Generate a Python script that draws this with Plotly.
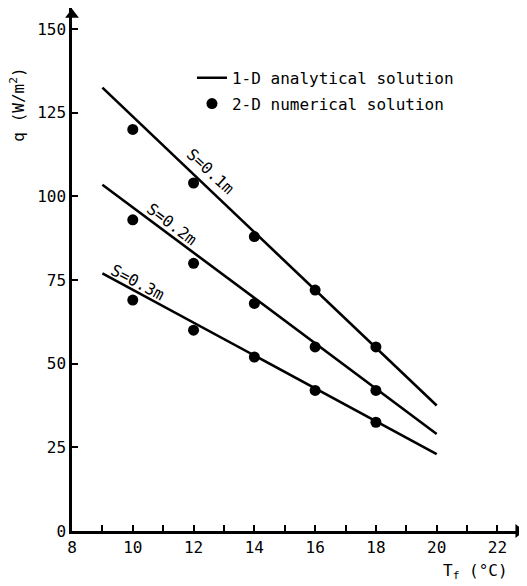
import plotly.graph_objects as go

# ---- data ----
T_line = [9, 20]
q_line_s01 = [132.5, 37.5]
q_line_s02 = [103.5, 29.0]
q_line_s03 = [77.0, 23.0]

T_pts = [10, 12, 14, 16, 18]
q_pts_s01 = [120, 104, 88, 72, 55]
q_pts_s02 = [93, 80, 68, 55, 42]
q_pts_s03 = [69, 60, 52, 42, 32.5]

labels = ["S=0.1m", "S=0.2m", "S=0.3m"]
label_T = [12.55, 11.3, 10.17]
label_q = [107.3, 91.7, 74.4]
label_angle = [43, 37, 28]

x_ticks = [8, 10, 12, 14, 16, 18, 20, 22]
y_ticks = [0, 25, 50, 75, 100, 125, 150]

FONT = "DejaVu Sans Mono"

xr = [8, 22.84]
yr = [0, 156.3]

fig = go.Figure()
lines = [q_line_s01, q_line_s02, q_line_s03]
pts = [q_pts_s01, q_pts_s02, q_pts_s03]
for i in range(3):
    fig.add_trace(go.Scatter(
        x=T_line, y=lines[i], mode="lines",
        line=dict(color="black", width=2.6),
        name="1-D analytical solution", showlegend=(i == 0),
        legendgroup="a"))
for i in range(3):
    fig.add_trace(go.Scatter(
        x=T_pts, y=pts[i], mode="markers",
        marker=dict(color="black", size=11),
        name="2-D numerical solution", showlegend=(i == 0),
        legendgroup="b"))

# axis arrow heads
fig.add_trace(go.Scatter(x=[xr[1] - 0.15], y=[yr[0]], mode="markers",
                         marker=dict(symbol="triangle-right", size=12, color="black"),
                         showlegend=False, cliponaxis=False, hoverinfo="skip"))
fig.add_trace(go.Scatter(x=[xr[0]], y=[yr[1] - 2], mode="markers",
                         marker=dict(symbol="triangle-up", size=12, color="black"),
                         showlegend=False, cliponaxis=False, hoverinfo="skip"))

for t, x, y, a in zip(labels, label_T, label_q, label_angle):
    fig.add_annotation(x=x, y=y, text=t, textangle=a, showarrow=False,
                       font=dict(family=FONT, size=16, color="black"))

# axis titles
fig.add_annotation(x=0.971, y=-0.078, xref="paper", yref="paper",
                   xanchor="right", yanchor="middle", showarrow=False,
                   text="T<sub>f</sub> (°C)",
                   font=dict(family=FONT, size=16, color="black"))
fig.add_annotation(x=-0.12, y=0.815, xref="paper", yref="paper",
                   xanchor="center", yanchor="middle", showarrow=False,
                   textangle=-90, text="q (W/m<sup>2</sup>)",
                   font=dict(family=FONT, size=16, color="black"))

fig.update_layout(
    width=519, height=578,
    margin=dict(l=64, r=4, t=0, b=55),
    paper_bgcolor="white", plot_bgcolor="white",
    font=dict(family=FONT, size=16, color="black"),
    showlegend=True,
    legend=dict(x=0.266, y=0.899, xanchor="left", yanchor="top",
                bgcolor="rgba(0,0,0,0)", font=dict(family=FONT, size=16),
                tracegroupgap=2),
    xaxis=dict(range=xr, tickvals=x_ticks,
               ticks="inside", ticklen=6, tickwidth=1.5, tickcolor="black",
               minor=dict(ticks="inside", ticklen=6, tickwidth=1.5,
                          tickcolor="black", dtick=1, tick0=8, showgrid=False),
               showline=True, linecolor="black", linewidth=2.5,
               showgrid=False, zeroline=False),
    yaxis=dict(range=yr, tickvals=y_ticks, ticks="inside", ticklen=6,
               tickwidth=1.5, tickcolor="black",
               showline=True, linecolor="black", linewidth=2.5,
               showgrid=False, zeroline=False),
)

fig.write_html("out.html")
